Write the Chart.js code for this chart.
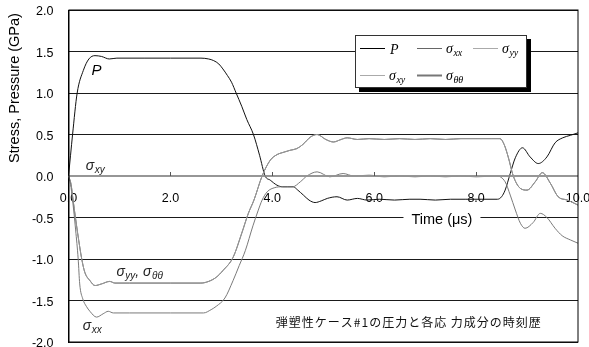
<!DOCTYPE html>
<html>
<head>
<meta charset="utf-8">
<script src="https://cdn.jsdelivr.net/npm/chart.js@4"></script>
<style>
  html, body { margin: 0; padding: 0; background: #fff; }
  #wrap { width: 589px; height: 347px; position: relative; }
</style>
</head>
<body>
<div id="wrap"><canvas id="c" width="589" height="347"></canvas></div>
<script>
// Time axis samples (µs) and values (GPa) for each quantity
const pTime = [0, 0.04, 0.08, 0.17, 0.29, 0.4, 0.52, 0.65, 0.8, 0.95, 1.5, 2.0, 2.6, 2.75, 2.85, 2.95, 3.03, 3.12, 3.2, 3.29, 3.4, 3.5, 3.63, 3.75, 3.86, 3.96, 4.09, 4.2, 4.3, 4.41, 4.5, 4.61, 4.72, 4.84, 4.96, 5.08, 5.27, 5.47, 5.67, 5.86, 6.1, 6.4, 6.7, 6.9, 7.2, 7.5, 7.8, 8.1, 8.42, 8.5, 8.57, 8.67, 8.77, 8.91, 9.06, 9.22, 9.39, 9.55, 9.7, 9.85, 10.0];
const pValues = [0, 0.25, 0.5, 1.0, 1.27, 1.41, 1.45, 1.44, 1.41, 1.42, 1.42, 1.42, 1.42, 1.41, 1.39, 1.35, 1.29, 1.21, 1.13, 1.0, 0.84, 0.68, 0.5, 0.25, 0.0, -0.05, -0.11, -0.13, -0.13, -0.13, -0.17, -0.23, -0.29, -0.32, -0.3, -0.27, -0.25, -0.29, -0.27, -0.29, -0.28, -0.29, -0.28, -0.28, -0.29, -0.28, -0.28, -0.28, -0.28, -0.25, -0.17, 0.03, 0.22, 0.34, 0.23, 0.15, 0.23, 0.40, 0.46, 0.49, 0.52];

const sxxTime = [0, 0.04, 0.08, 0.14, 0.19, 0.22, 0.28, 0.35, 0.42, 0.55, 0.68, 0.78, 0.88, 1.2, 2.0, 2.65, 2.8, 2.9, 3.07, 3.23, 3.35, 3.47, 3.62, 3.72, 3.8, 3.9, 4.05, 4.2, 4.4, 4.55, 4.68, 4.88, 5.13, 5.39, 5.6, 5.9, 6.2, 6.5, 6.8, 7.1, 7.4, 7.7, 8.0, 8.4, 8.57, 8.67, 8.77, 8.87, 8.96, 9.12, 9.26, 9.39, 9.55, 9.69, 9.85, 10.0];
const sxxValues = [0, -0.1, -0.29, -0.65, -1.0, -1.3, -1.48, -1.57, -1.63, -1.70, -1.66, -1.63, -1.65, -1.65, -1.65, -1.65, -1.61, -1.57, -1.47, -1.26, -1.08, -0.9, -0.6, -0.42, -0.29, -0.19, -0.14, -0.13, -0.13, -0.07, 0.0, 0.05, -0.01, 0.03, 0.0, 0.01, -0.01, 0.0, -0.01, 0.0, -0.01, 0.0, -0.01, 0.0, -0.07, -0.23, -0.41, -0.57, -0.63, -0.56, -0.45, -0.5, -0.63, -0.72, -0.77, -0.81];

const syyTime = [0, 0.05, 0.09, 0.18, 0.26, 0.32, 0.42, 0.52, 0.65, 0.81, 0.91, 1.2, 2.0, 2.6, 2.75, 2.9, 3.03, 3.23, 3.4, 3.53, 3.64, 3.8, 3.96, 4.1, 4.19, 4.35, 4.48, 4.6, 4.75, 4.88, 5.05, 5.2, 5.35, 5.47, 5.67, 5.9, 6.2, 6.5, 6.8, 7.1, 7.4, 7.7, 8.0, 8.3, 8.47, 8.55, 8.63, 8.73, 8.87, 9.0, 9.16, 9.3, 9.46, 9.61, 9.79, 10.0];
const syyValues = [0, -0.1, -0.29, -0.69, -1.0, -1.16, -1.26, -1.32, -1.30, -1.27, -1.29, -1.29, -1.29, -1.29, -1.27, -1.22, -1.14, -0.98, -0.69, -0.45, -0.29, 0.0, 0.19, 0.26, 0.28, 0.31, 0.33, 0.38, 0.47, 0.5, 0.44, 0.41, 0.44, 0.46, 0.44, 0.45, 0.44, 0.45, 0.44, 0.45, 0.44, 0.45, 0.45, 0.45, 0.45, 0.38, 0.23, 0.0, -0.15, -0.17, -0.07, 0.04, -0.09, -0.25, -0.29, -0.35];

// Hoop stress coincides with the yy component
const sttTime = [0, 0.05, 0.09, 0.18, 0.26, 0.32, 0.42, 0.52, 0.65, 0.81, 0.91, 1.2, 2.0, 2.6, 2.75, 2.9, 3.03, 3.23, 3.4, 3.53, 3.64, 3.8, 3.96, 4.1, 4.19, 4.35, 4.48, 4.6, 4.75, 4.88, 5.05, 5.2, 5.35, 5.47, 5.67, 5.9, 6.2, 6.5, 6.8, 7.1, 7.4, 7.7, 8.0, 8.3, 8.47, 8.55, 8.63, 8.73, 8.87, 9.0, 9.16, 9.3, 9.46, 9.61, 9.79, 10.0];
const sttValues = [0, -0.1, -0.29, -0.69, -1.0, -1.16, -1.26, -1.32, -1.30, -1.27, -1.29, -1.29, -1.29, -1.29, -1.27, -1.22, -1.14, -0.98, -0.69, -0.45, -0.29, 0.0, 0.19, 0.26, 0.28, 0.31, 0.33, 0.38, 0.47, 0.5, 0.44, 0.41, 0.44, 0.46, 0.44, 0.45, 0.44, 0.45, 0.44, 0.45, 0.44, 0.45, 0.45, 0.45, 0.45, 0.38, 0.23, 0.0, -0.15, -0.17, -0.07, 0.04, -0.09, -0.25, -0.29, -0.35];

const sxyTime = [0, 10];
const sxyValues = [0, 0];

const xTickValues = [0, 2, 4, 6, 8, 10];
const yTickValues = [-2, -1.5, -1, -0.5, 0, 0.5, 1, 1.5, 2];

const axisTitleY = 'Stress, Pressure (GPa)';
const axisTitleX = 'Time (\u03bcs)';
const caption = '弾塑性ケース#1の圧力と各応 力成分の時刻歴';

function pts(t, v) { return t.map((x, i) => ({ x: x, y: v[i] })); }

const SANS = '"Liberation Sans", Arial, sans-serif';
const SERIF = '"Liberation Serif", "Times New Roman", serif';

// sigma with subscript
function drawSigma(ctx, x, y, sub, size, family, color) {
  ctx.save();
  ctx.fillStyle = color || '#000';
  ctx.textBaseline = 'alphabetic';
  ctx.textAlign = 'left';
  ctx.font = 'italic ' + size + 'px ' + family;
  ctx.fillText('\u03c3', x, y);
  const w = ctx.measureText('\u03c3').width;
  ctx.font = 'italic ' + Math.round(size * 0.68) + 'px ' + family;
  ctx.fillText(sub, x + w + 0.5, y + size * 0.22);
  const w2 = ctx.measureText(sub).width;
  ctx.restore();
  return w + 0.5 + w2;
}

const decorations = {
  id: 'decorations',
  afterDatasetsDraw(chart) {
    const ctx = chart.ctx;
    const xs = chart.scales.x, ys = chart.scales.y;
    const a = chart.chartArea;
    ctx.save();

    // plot frame
    ctx.strokeStyle = '#000';
    ctx.lineWidth = 1;
    ctx.strokeRect(a.left + 0.5, a.top, a.right - a.left - 0.5, a.bottom - a.top);

    // tick marks on the time axis
    const y0 = ys.getPixelForValue(0);
    ctx.strokeStyle = '#555';
    ctx.lineWidth = 1;
    [2, 4, 6, 8].forEach(v => {
      const px = Math.round(xs.getPixelForValue(v)) + 0.5;
      ctx.beginPath(); ctx.moveTo(px, y0); ctx.lineTo(px, y0 - 4); ctx.stroke();
    });

    // curve labels
    ctx.fillStyle = '#000';
    ctx.font = 'italic 15px ' + SANS;
    ctx.textAlign = 'center'; ctx.textBaseline = 'middle';
    ctx.fillText('P', xs.getPixelForValue(0.55), ys.getPixelForValue(1.27));

    drawSigma(ctx, xs.getPixelForValue(0.34), ys.getPixelForValue(0.07), 'xy', 14, SANS, '#222');
    let lx = xs.getPixelForValue(0.94);
    const ly = ys.getPixelForValue(-1.2);
    lx += drawSigma(ctx, lx, ly, 'yy', 14, SANS, '#222');
    ctx.font = 'italic 14px ' + SANS; ctx.textAlign = 'left'; ctx.textBaseline = 'alphabetic';
    ctx.fillStyle = '#222';
    ctx.fillText(',', lx, ly);
    lx += ctx.measureText(', ').width;
    drawSigma(ctx, lx, ly, '\u03b8\u03b8', 14, SANS, '#222');
    drawSigma(ctx, xs.getPixelForValue(0.28), ys.getPixelForValue(-1.86), 'xx', 14, SANS, '#222');

    // time axis title sitting on the -0.5 grid line
    ctx.font = '14.5px ' + SANS;
    ctx.textAlign = 'center'; ctx.textBaseline = 'middle';
    const tx = xs.getPixelForValue(7.33), ty = ys.getPixelForValue(-0.53);
    const tw = ctx.measureText(axisTitleX).width;
    ctx.fillStyle = '#fff';
    ctx.fillRect(tx - tw / 2 - 8, ty - 9, tw + 16, 17);
    ctx.fillStyle = '#000';
    ctx.fillText(axisTitleX, tx, ty);

    // caption
    ctx.font = '12px "Noto Sans CJK JP", sans-serif';
    ctx.letterSpacing = '1px';
    ctx.textAlign = 'center';
    ctx.fillStyle = '#111';
    ctx.fillText(caption, xs.getPixelForValue(6.68), ys.getPixelForValue(-1.76));
    ctx.letterSpacing = '0px';

    // vertical axis title
    ctx.save();
    ctx.translate(14.5, 88);
    ctx.rotate(-Math.PI / 2);
    ctx.font = '14.5px ' + SANS;
    ctx.textAlign = 'center'; ctx.textBaseline = 'middle';
    ctx.fillStyle = '#000';
    ctx.fillText(axisTitleY, 0, 0);
    ctx.restore();

    // legend with drop shadow
    const bx = 355, by = 35, bw = 172, bh = 53;
    ctx.fillStyle = '#000';
    ctx.fillRect(bx + 4, by + 4, bw, bh);
    ctx.fillStyle = '#fff';
    ctx.fillRect(bx, by, bw, bh);
    ctx.strokeStyle = '#333';
    ctx.lineWidth = 1;
    ctx.strokeRect(bx + 0.5, by + 0.5, bw - 1, bh - 1);

    const items = [
      { x: 360, y: 48.5, color: '#000', w: 1, label: null },
      { x: 417, y: 48.5, color: '#666', w: 1, sub: 'xx' },
      { x: 473, y: 48.5, color: '#aaa', w: 1, sub: 'yy' },
      { x: 360, y: 75.5, color: '#aaa', w: 1, sub: 'xy' },
      { x: 417, y: 75.5, color: '#777', w: 2, sub: '\u03b8\u03b8' }
    ];
    items.forEach(it => {
      ctx.strokeStyle = it.color; ctx.lineWidth = it.w;
      ctx.beginPath(); ctx.moveTo(it.x, it.y); ctx.lineTo(it.x + 25, it.y); ctx.stroke();
      if (it.sub) {
        drawSigma(ctx, it.x + 29, it.y + 4, it.sub, 14, SERIF, '#000');
      } else {
        ctx.fillStyle = '#000';
        ctx.font = 'italic 14px ' + SERIF;
        ctx.textAlign = 'left'; ctx.textBaseline = 'alphabetic';
        ctx.fillText('P', it.x + 30, it.y + 5);
      }
    });

    ctx.restore();
  }
};

const common = { fill: false, pointRadius: 0, borderWidth: 1, cubicInterpolationMode: 'monotone' };

new Chart(document.getElementById('c'), {
  type: 'line',
  data: {
    datasets: [
      Object.assign({ label: 'sxy', data: pts(sxyTime, sxyValues), borderColor: '#9a9a9a' }, common, { borderWidth: 1.5 }),
      Object.assign({ label: 'sxx', data: pts(sxxTime, sxxValues), borderColor: '#7a7a7a' }, common),
      Object.assign({ label: 'syy', data: pts(syyTime, syyValues), borderColor: '#9a9a9a' }, common),
      Object.assign({ label: 'stt', data: pts(sttTime, sttValues), borderColor: '#5a5a5a' }, common),
      Object.assign({ label: 'P', data: pts(pTime, pValues), borderColor: '#111' }, common)
    ]
  },
  options: {
    responsive: false,
    animation: false,
    events: [],
    layout: { padding: { top: 10, right: 11, bottom: 5, left: 0 } },
    plugins: { legend: { display: false }, tooltip: { enabled: false } },
    scales: {
      x: {
        type: 'linear',
        min: 0, max: 10,
        position: { y: 0 },
        afterBuildTicks(s) { s.ticks = xTickValues.map(v => ({ value: v })); },
        afterFit(s) { s.paddingLeft = 0; s.paddingRight = 0; },
        grid: { display: false, drawTicks: false },
        border: { display: false },
        ticks: {
          padding: 15,
          color: '#000',
          font: { family: SANS, size: 12.5 },
          maxRotation: 0,
          callback: v => Number(v).toFixed(1)
        }
      },
      y: {
        min: -2, max: 2,
        afterBuildTicks(s) { s.ticks = yTickValues.map(v => ({ value: v })); },
        afterFit(s) { s.width = 68.5; s.paddingTop = 0; s.paddingBottom = 0; },
        grid: {
          drawTicks: false,
          color: c => (c.tick && c.tick.value === 0) ? '#8a8a8a' : '#1a1a1a',
          lineWidth: c => (c.tick && c.tick.value === 0) ? 2 : 1
        },
        border: { display: true, color: '#000', width: 1 },
        ticks: {
          padding: 15,
          labelOffset: 2,
          color: '#000',
          font: { family: SANS, size: 12.5 },
          callback: v => Number(v).toFixed(1)
        }
      }
    }
  },
  plugins: [decorations]
});
</script>
</body>
</html>
